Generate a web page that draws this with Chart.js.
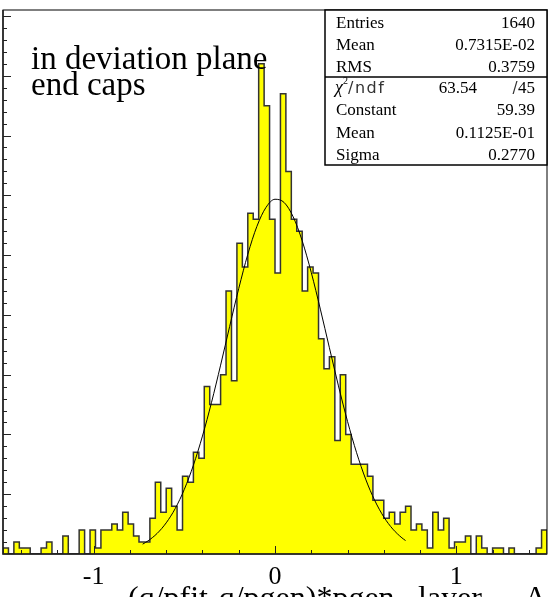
<!DOCTYPE html>
<html>
<head>
<meta charset="utf-8">
<script src="https://cdn.jsdelivr.net/npm/chart.js@4"></script>
<style>
  html, body { margin: 0; padding: 0; background: #fff; }
  canvas { display: block; }
</style>
</head>
<body>
<canvas id="hist" width="550" height="597"></canvas>
<script>
// histogram: 100 bins, -1.5 .. 1.5
const binLow = -1.5;
const binWidth = 0.03;
const binCounts = [
  1, 0, 2, 1, 1, 0, 0, 1, 2, 0,
  0, 3, 0, 0, 4, 0, 4, 1, 4, 4,
  5, 4, 7, 5, 3, 2, 2, 6, 12, 7,
  11, 8, 4, 13, 12, 17, 16, 28, 25, 25,
  30, 44, 29, 52, 48, 57, 56, 82, 75, 56,
  47, 77, 64, 56, 54, 44, 48, 47, 36, 31,
  33, 19, 30, 20, 15, 15, 15, 13, 9, 9,
  6, 7, 5, 7, 8, 4, 5, 4, 1, 7,
  4, 6, 1, 2, 2, 3, 0, 3, 1, 0,
  1, 1, 0, 1, 0, 0, 0, 0, 1, 4
];

// gaussian fit line
const fitX = [-0.73, -0.70, -0.65, -0.60, -0.55, -0.50, -0.45, -0.40, -0.35, -0.30,
  -0.25, -0.20, -0.15, -0.10, -0.05, 0.00, 0.05, 0.10, 0.15, 0.20,
  0.25, 0.30, 0.35, 0.40, 0.45, 0.50, 0.55, 0.60, 0.65, 0.70, 0.72];
const fitY = [1.65, 2.20, 3.44, 5.21, 7.62, 10.82, 14.85, 19.73, 25.37, 31.59,
  38.07, 44.40, 50.13, 54.79, 57.96, 59.34, 58.81, 56.42, 52.39, 47.09,
  40.96, 34.50, 28.12, 22.18, 16.94, 12.52, 8.96, 6.20, 4.16, 2.70, 2.25];

const xLabelValues = [-1, 0, 1];
const statsNames1 = ['Entries', 'Mean', 'RMS'];
const statsValues1 = ['1640', '0.7315E-02', '0.3759'];
const chi2 = '63.54';
const ndf = '45';
const statsNames2 = ['Constant', 'Mean', 'Sigma'];
const statsValues2 = ['59.39', '0.1125E-01', '0.2770'];
const noteLines = ['in deviation plane', 'end caps'];
const xTitleParts = ['(q/pfit-q/pgen)*pgen', 'layer', 'A'];

// step outline points (left edge of each bin)
let histPoints = [{x: binLow, y: 0}];
for (let i = 0; i < binCounts.length; i++) {
    histPoints.push({x: binLow + i * binWidth, y: binCounts[i]});
}
histPoints.push({x: binLow + binCounts.length * binWidth, y: binCounts[binCounts.length - 1]});
histPoints.push({x: binLow + binCounts.length * binWidth, y: 0});

const serif = '"Liberation Serif", "Times New Roman", serif';

const rootFrame = {
    id: 'rootFrame',
    afterDatasetsDraw(chart) {
        const ctx = chart.ctx;
        const a = chart.chartArea;
        const x = chart.scales.x;
        const y = chart.scales.y;
        ctx.save();
        ctx.strokeStyle = '#000';
        ctx.lineWidth = 1;
        ctx.strokeRect(a.left, a.top, a.right - a.left, a.bottom - a.top);

        ctx.lineWidth = 1.5;
        ctx.strokeStyle = '#222';
        ctx.beginPath();
        ctx.moveTo(a.left, a.top);
        ctx.lineTo(a.left, a.bottom);
        ctx.lineTo(a.right, a.bottom);
        ctx.stroke();

        // ticks point inwards like ROOT
        ctx.lineWidth = 1;
        ctx.beginPath();
        for (let k = -7; k <= 7; k++) {
            const px = Math.round(x.getPixelForValue(k * 0.2)) + 0.5;
            const len = (k % 5 === 0) ? 8 : 4;
            ctx.moveTo(px, a.bottom);
            ctx.lineTo(px, a.bottom - len);
        }
        for (let v = 2; v <= 90; v += 2) {
            const py = Math.round(y.getPixelForValue(v)) + 0.5;
            const len = (v % 10 === 0) ? 8 : 4;
            ctx.moveTo(a.left, py);
            ctx.lineTo(a.left + len, py);
        }
        ctx.stroke();
        ctx.restore();
    },
    afterDraw(chart) {
        const ctx = chart.ctx;
        ctx.save();
        ctx.fillStyle = '#000';
        ctx.textBaseline = 'alphabetic';

        ctx.font = '33px ' + serif;
        ctx.fillText(noteLines[0], 31, 69);
        ctx.fillText(noteLines[1], 31, 95);

        // axis title, cut by the bottom edge as in the original
        ctx.font = '32px ' + serif;
        ctx.fillText(xTitleParts[0], 128, 608);
        ctx.fillText(xTitleParts[1], 418, 608);
        ctx.fillText(xTitleParts[2], 524, 608);

        // stats box
        const bx = 325, by = 10, bw = 222, bh = 155;
        ctx.fillStyle = '#fff';
        ctx.fillRect(bx, by, bw, bh);
        ctx.strokeStyle = '#000';
        ctx.lineWidth = 1.5;
        ctx.strokeRect(bx, by, bw, bh);
        ctx.beginPath();
        ctx.moveTo(bx, 77);
        ctx.lineTo(bx + bw, 77);
        ctx.stroke();

        ctx.fillStyle = '#000';
        ctx.font = '17px ' + serif;
        const rows1 = [27.5, 49.5, 71.5];
        for (let i = 0; i < 3; i++) {
            ctx.textAlign = 'left';
            ctx.fillText(statsNames1[i], 336, rows1[i]);
            ctx.textAlign = 'right';
            ctx.fillText(statsValues1[i], 535, rows1[i]);
        }
        const rows2 = [115, 137.5, 159.5];
        for (let i = 0; i < 3; i++) {
            ctx.textAlign = 'left';
            ctx.fillText(statsNames2[i], 336, rows2[i]);
            ctx.textAlign = 'right';
            ctx.fillText(statsValues2[i], 535, rows2[i]);
        }

        // chi2 / ndf row
        ctx.textAlign = 'left';
        ctx.font = 'italic 18px ' + serif;
        ctx.fillText('\u03c7', 335, 93);
        ctx.font = '10px ' + serif;
        ctx.fillText('2', 343, 84);
        ctx.font = '16px "DejaVu Sans", sans-serif';
        ctx.letterSpacing = '1.5px';
        ctx.fillStyle = '#333';
        ctx.fillText('/ndf', 348, 93);
        ctx.letterSpacing = '0px';
        ctx.fillStyle = '#000';
        ctx.font = '17px ' + serif;
        ctx.textAlign = 'right';
        ctx.fillText(chi2, 477, 93);
        ctx.fillText(ndf, 535, 93);
        ctx.textAlign = 'center';
        ctx.font = '15px "DejaVu Sans", sans-serif';
        ctx.fillStyle = '#333';
        ctx.fillText('/', 515, 93);
        ctx.restore();
    }
};

new Chart(document.getElementById('hist'), {
    type: 'line',
    data: {
        datasets: [{
            label: 'gaus fit',
            data: fitX.map((v, i) => ({x: v, y: fitY[i]})),
            borderColor: '#000',
            borderWidth: 1,
            pointRadius: 0,
            fill: false,
            cubicInterpolationMode: 'monotone',
            order: 0
        }, {
            label: 'histogram',
            data: histPoints,
            stepped: true,
            borderColor: '#333',
            borderWidth: 1.5,
            backgroundColor: '#ffff00',
            fill: 'origin',
            pointRadius: 0,
            order: 1
        }]
    },
    options: {
        responsive: false,
        animation: false,
        devicePixelRatio: 1,
        layout: {padding: {left: 3, top: 10, right: 3, bottom: 0}},
        plugins: {
            legend: {display: false},
            tooltip: {enabled: false}
        },
        scales: {
            x: {
                type: 'linear',
                min: -1.5,
                max: 1.5,
                grid: {display: false, drawTicks: false},
                border: {display: false},
                afterBuildTicks: s => { s.ticks = xLabelValues.map(v => ({value: v})); },
                afterFit: s => { s.height = 43; },
                ticks: {
                    font: {family: serif, size: 26},
                    color: '#000',
                    padding: 8,
                    maxRotation: 0,
                    autoSkip: false,
                    callback: v => String(v)
                }
            },
            y: {
                min: 0,
                max: 91,
                display: false
            }
        }
    },
    plugins: [rootFrame]
});
</script>
</body>
</html>
